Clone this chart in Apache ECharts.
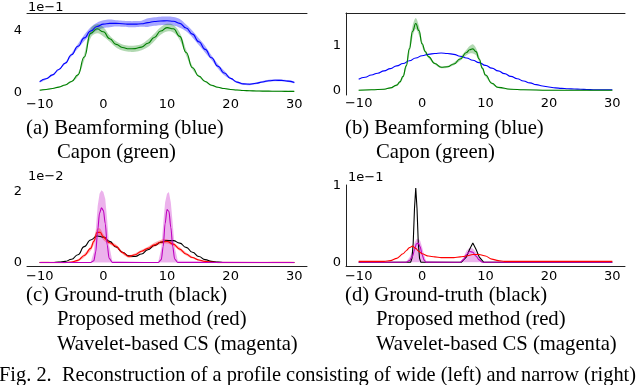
<!DOCTYPE html>
<html>
<head>
<meta charset="utf-8">
<script src="https://cdn.jsdelivr.net/npm/echarts@6/dist/echarts.min.js"></script>
<style>
html,body{margin:0;padding:0;background:#fff;}
#chart{width:640px;height:385px;}
</style>
</head>
<body>
<div id="chart"></div>
<script>
// x ticks shared by all panels
var xTicks = [-10, 0, 10, 20, 30];

// (a) wide profile, units of 1e-1
var aX = [-10,-9,-8,-7,-6,-5,-4,-3,-2,-1,0,1,2,3,4,5,6,7,8,9,10,11,12,13,14,15,16,17,18,19,20,21,22,23,24,25,26,27,28,29,30];
var aBlue = [0.69,0.88,1.13,1.48,1.9,2.45,3.0,3.55,4.0,4.3,4.45,4.5,4.5,4.48,4.45,4.45,4.48,4.55,4.62,4.66,4.67,4.64,4.5,4.2,3.8,3.3,2.8,2.25,1.7,1.25,0.9,0.66,0.54,0.52,0.58,0.67,0.75,0.78,0.77,0.72,0.64];
var aBlueErr = [0.05,0.05,0.05,0.05,0.06,0.1,0.15,0.2,0.25,0.25,0.25,0.25,0.2,0.2,0.2,0.2,0.2,0.28,0.28,0.28,0.28,0.28,0.28,0.22,0.22,0.22,0.22,0.15,0.15,0.15,0.06,0.06,0.06,0.06,0.06,0.06,0.06,0.06,0.06,0.06,0.06];
var aGreen = [0.13,0.18,0.24,0.33,0.47,0.7,1.13,2.3,3.85,4.15,3.95,3.5,3.13,2.92,2.84,2.85,2.95,3.2,3.58,4.0,4.22,4.15,3.65,2.6,1.6,1.05,0.7,0.45,0.32,0.24,0.18,0.14,0.11,0.09,0.08,0.07,0.07,0.06,0.06,0.05,0.05];
var aGreenErr = [0.03,0.03,0.03,0.03,0.04,0.05,0.1,0.2,0.3,0.3,0.3,0.2,0.2,0.2,0.2,0.2,0.2,0.25,0.25,0.25,0.25,0.25,0.25,0.2,0.12,0.06,0.05,0.04,0.03,0.03,0.03,0.03,0.03,0.03,0.03,0.03,0.03,0.03,0.03,0.03,0.03];

// (b) narrow profile, units of 1e-1
var bBlueX = aX;
var bBlue = [0.26,0.3,0.35,0.39,0.44,0.49,0.55,0.6,0.66,0.72,0.77,0.8,0.82,0.83,0.82,0.8,0.76,0.72,0.67,0.62,0.56,0.5,0.44,0.38,0.32,0.27,0.22,0.18,0.14,0.11,0.09,0.07,0.06,0.05,0.045,0.04,0.035,0.03,0.03,0.03,0.03];
var bGreenX = [-10,-8,-6,-5,-4,-3.5,-3,-2.5,-2,-1.5,-1,-0.5,0,0.5,1,2,3,4,5,6,7,7.5,8,8.5,9,9.5,10,11,12,14,16,20,25,30];
var bGreen = [0.02,0.03,0.04,0.07,0.13,0.2,0.32,0.55,0.92,1.3,1.47,1.32,1.03,0.86,0.75,0.6,0.52,0.53,0.59,0.7,0.84,0.9,0.92,0.86,0.7,0.5,0.35,0.17,0.08,0.04,0.03,0.02,0.02,0.02];
var bGreenErr = [0.01,0.01,0.01,0.01,0.02,0.03,0.04,0.06,0.1,0.12,0.12,0.1,0.06,0.04,0.03,0.02,0.02,0.02,0.03,0.04,0.06,0.08,0.1,0.08,0.06,0.04,0.03,0.02,0.01,0.01,0.01,0.01,0.01,0.01];

// (c) wide profile, units of 1e-2
var cBlackX = aX;
var cBlack = [0,0,0,0.01,0.03,0.09,0.22,0.45,0.64,0.75,0.72,0.6,0.44,0.29,0.19,0.17,0.24,0.36,0.48,0.57,0.62,0.62,0.55,0.43,0.29,0.17,0.08,0.03,0.01,0,0,0,0,0,0,0,0,0,0,0,0];
var cRedX = [-10,-8,-6,-5,-4,-3,-2,-1.5,-1,-0.5,0,1,2,3,4,5,6,7,8,9,10,11,12,13,14,15,16,17,18,20,25,30];
var cRed = [0,0,0,0.01,0.06,0.2,0.4,0.6,0.85,0.86,0.72,0.56,0.46,0.28,0.17,0.22,0.32,0.4,0.5,0.58,0.6,0.52,0.38,0.24,0.14,0.07,0.03,0.01,0,0,0,0];
var cRedErr = [0.02,0.02,0.02,0.02,0.03,0.05,0.07,0.1,0.1,0.1,0.08,0.05,0.05,0.04,0.04,0.04,0.04,0.05,0.06,0.06,0.06,0.05,0.05,0.04,0.03,0.02,0.02,0.02,0.02,0.02,0.02,0.02];
var cMagX = [-10,-2,-1.5,-1.2,-0.9,-0.6,-0.3,0,0.3,0.6,0.9,1.4,8.6,9.1,9.4,9.7,10.0,10.3,10.6,10.9,11.2,11.7,30];
var cMag = [0,0,0.05,0.3,0.9,1.4,1.55,1.48,1.1,0.5,0.12,0,0,0.08,0.45,1.1,1.5,1.45,1.0,0.45,0.1,0,0];
var cMagHi = [0,0,0.3,0.9,1.6,1.95,2.05,2.0,1.8,1.2,0.5,0.05,0,0.4,1.1,1.7,1.95,2.0,1.7,1.1,0.45,0.05,0];

// (d) narrow profile, units of 1e-1
var dBlackX = [-10,-1.8,-1.6,-1.4,-1.2,-1.0,-0.8,-0.6,-0.4,-0.2,6.2,7,7.5,8,8.5,9,9.7,30];
var dBlack = [0,0,0.05,0.25,0.7,0.97,0.7,0.25,0.05,0,0,0.07,0.17,0.25,0.17,0.07,0,0];
var dRedX = [-10,-6,-5,-4,-3,-2.5,-2,-1.5,-1,-0.5,0,1,2,3,4,5,6,7,8,9,10,11,12,13,15,20,30];
var dRed = [0.01,0.01,0.02,0.05,0.11,0.15,0.19,0.21,0.18,0.14,0.11,0.08,0.07,0.06,0.06,0.06,0.07,0.08,0.1,0.1,0.08,0.04,0.02,0.01,0.01,0.01,0.01];
var dMagX = [-10,-2.5,-2,-1.5,-1.2,-0.9,-0.6,-0.3,0,0.3,0.6,6,6.5,7,7.5,8,8.5,9,9.5,30];
var dMag = [0,0,0.02,0.08,0.16,0.24,0.25,0.2,0.1,0.03,0,0,0.03,0.1,0.14,0.13,0.08,0.03,0,0];
var dMagHi = [0,0.01,0.06,0.15,0.25,0.3,0.31,0.28,0.2,0.1,0.02,0,0.06,0.15,0.19,0.18,0.13,0.06,0.01,0];

var BLUE = '#0000ff', GREEN = '#008000', RED = '#ff0000', MAG = '#bf00bf', BLACK = '#000000';
var SANS = 'DejaVu Sans';
var SERIF = '"Liberation Serif", "Times New Roman", serif';

function pairs(xs, ys){
	var out = [];
	for(var i=0;i<xs.length;i++){
		out.push([xs[i], ys[i]]);
	}
	return out;
}

function line(idx, xs, ys, color, smooth){
	return {
		type:'line', xAxisIndex:idx, yAxisIndex:idx,
		data:pairs(xs, ys), symbol:'none', smooth:smooth, smoothMonotone:'x',
		lineStyle:{color:color, width:1.1}, z:3, silent:true
	};
}

// shaded band between lo and hi, drawn as one polygon through the axes
function band(idx, xs, lo, hi, color, op, smooth){
	return {
		type:'custom', xAxisIndex:idx, yAxisIndex:idx, data:[[xs[0], lo[0]]],
		silent:true, z:2, clip:true,
		renderItem:function(params, api){
			var pts = [];
			for(var i=0;i<xs.length;i++) pts.push(api.coord([xs[i], hi[i]]));
			for(var j=xs.length-1;j>=0;j--) pts.push(api.coord([xs[j], lo[j]]));
			return {type:'polygon', shape:{points:pts, smooth:smooth}, style:{fill:color, opacity:op}};
		}
	};
}

function errBand(idx, xs, ys, err, color, op, smooth){
	var lo = [], hi = [];
	for(var i=0;i<xs.length;i++){
		lo.push(ys[i]-err[i]);
		hi.push(ys[i]+err[i]);
	}
	return band(idx, xs, lo, hi, color, op, smooth);
}

function zeros(n){
	var z = [];
	for(var i=0;i<n;i++) z.push(0);
	return z;
}

var grids = [
	{left:27, top:13, width:280, height:83},
	{left:346, top:13, width:279, height:82},
	{left:27, top:185, width:280, height:81},
	{left:346, top:185, width:279, height:81}
];
var yRanges = [[-0.25,5.18],[-0.085,1.7],[-0.1,2.2],[-0.05,1.01]];
var yTicks = [[0,4],[0,1],[0,2],[0,1]];
var leftSpine = [false,true,false,true];
var bottomSpine = [false,false,true,true];
var topSpine = [true,true,false,false];

function fmt(v){
	return v < 0 ? '\u2212' + Math.abs(v) : '' + v;
}

var xAxes = [], yAxes = [];
for(var i=0;i<4;i++){
	xAxes.push({
		type:'value', gridIndex:i, min:-12, max:32, position:'bottom',
		axisLine:{show:bottomSpine[i], onZero:false, lineStyle:{color:'#222', width:1}},
		axisTick:{show:false},
		splitLine:{show:false},
		axisLabel:{customValues:xTicks, formatter:fmt, margin:i<2 ? 2 : 4, color:'#000', fontFamily:SANS, fontSize:13}
	});
	yAxes.push({
		type:'value', gridIndex:i, min:yRanges[i][0], max:yRanges[i][1],
		axisLine:{show:leftSpine[i], onZero:false, lineStyle:{color:'#222', width:1}},
		axisTick:{show:false},
		splitLine:{show:false},
		axisLabel:{customValues:yTicks[i], margin:5, color:'#000', fontFamily:SANS, fontSize:13}
	});
}
// top spines for (a) and (b)
for(var i=0;i<4;i++){
	if(!topSpine[i]) continue;
	xAxes.push({
		type:'value', gridIndex:i, min:-12, max:32, position:'top',
		axisLine:{show:true, onZero:false, lineStyle:{color:'#222', width:1}},
		axisTick:{show:false}, axisLabel:{show:false}, splitLine:{show:false}
	});
}

var series = [];
series.push(errBand(0, aX, aBlue, aBlueErr, BLUE, 0.35, 0.4));
series.push(errBand(0, aX, aGreen, aGreenErr, GREEN, 0.3, 0.4));
series.push(line(0, aX, aBlue, BLUE, 0.5));
series.push(line(0, aX, aGreen, GREEN, 0.5));

series.push(errBand(1, bGreenX, bGreen, bGreenErr, GREEN, 0.3, 0.3));
series.push(line(1, bBlueX, bBlue, BLUE, 0.5));
series.push(line(1, bGreenX, bGreen, GREEN, 0.5));

series.push(line(2, cBlackX, cBlack, BLACK, 0.5));
series.push(band(2, cMagX, zeros(cMagX.length), cMagHi, MAG, 0.3, 0));
series.push(errBand(2, cRedX, cRed, cRedErr, RED, 0.3, 0.3));
series.push(line(2, cRedX, cRed, RED, 0.4));
series.push(line(2, cMagX, cMag, MAG, 0.3));

series.push(band(3, dMagX, zeros(dMagX.length), dMagHi, MAG, 0.3, 0));
series.push(line(3, dBlackX, dBlack, BLACK, false));
series.push(line(3, dMagX, dMag, MAG, 0.3));
series.push(line(3, dRedX, dRed, RED, 0.3));

function txt(x, y, s, font, size){
	return {type:'text', x:x, y:y, silent:true,
		style:{text:s, fontFamily:font, fontSize:size, fill:'#000', textVerticalAlign:'middle', verticalAlign:'middle'}};
}

var CAP = 20.7;
var graphics = [
	txt(28, 7.5, '1e\u22121', SANS, 13),
	txt(28, 177, '1e\u22122', SANS, 13),
	txt(348, 178, '1e\u22121', SANS, 13),
	txt(26, 129, '(a) Beamforming (blue)', SERIF, CAP),
	txt(57, 153, 'Capon (green)', SERIF, CAP),
	txt(345, 129, '(b) Beamforming (blue)', SERIF, CAP),
	txt(376, 153, 'Capon (green)', SERIF, CAP),
	txt(26, 296, '(c) Ground-truth (black)', SERIF, CAP),
	txt(57, 320, 'Proposed method (red)', SERIF, CAP),
	txt(57, 345, 'Wavelet-based CS (magenta)', SERIF, CAP),
	txt(345, 296, '(d) Ground-truth (black)', SERIF, CAP),
	txt(376, 320, 'Proposed method (red)', SERIF, CAP),
	txt(376, 345, 'Wavelet-based CS (magenta)', SERIF, CAP),
	txt(-1, 376, 'Fig. 2.  Reconstruction of a profile consisting of wide (left) and narrow (right)', SERIF, 20.4)
];

var myChart = echarts.init(document.getElementById('chart'), null, {renderer:'canvas'});
myChart.setOption({
	animation:false,
	backgroundColor:'#fff',
	grid:grids,
	xAxis:xAxes,
	yAxis:yAxes,
	series:series,
	graphic:graphics
});
</script>
</body>
</html>
